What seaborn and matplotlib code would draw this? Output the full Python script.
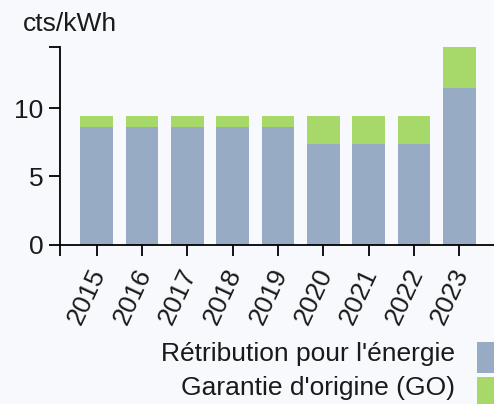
import matplotlib
matplotlib.use('Agg')
import matplotlib.pyplot as plt
import matplotlib.transforms as mtransforms
import seaborn as sns
import pandas as pd
from matplotlib.patches import Rectangle

years = ['2015', '2016', '2017', '2018', '2019', '2020', '2021', '2022', '2023']
energy = [8.6, 8.6, 8.6, 8.6, 8.6, 7.4, 7.4, 7.4, 11.5]
go = [0.8, 0.8, 0.8, 0.8, 0.8, 2.0, 2.0, 2.0, 3.0]
series_labels = ["Rétribution pour l'énergie", "Garantie d'origine (GO)"]
unit_label = 'cts/kWh'
y_ticks = [0, 5, 10]

bg = '#f8f9fd'
blue = '#98abc5'
green = '#a6d96a'
txt = '#1a1a1a'

sns.set_theme(style='ticks')
plt.rcParams['font.family'] = ['Liberation Sans', 'DejaVu Sans']

df = pd.DataFrame({'year': years, 'energy': energy,
                   'total': [e + g for e, g in zip(energy, go)]})

W, H = 494, 404
fig = plt.figure(figsize=(W / 100, H / 100), dpi=100, facecolor=bg)
ax = fig.add_axes([0.122, 0.394, 0.881, 0.4906])
ax.set_facecolor(bg)

sns.barplot(data=df, x='year', y='total', color=green, width=0.72,
            saturation=1, ax=ax, errorbar=None, linewidth=0)
sns.barplot(data=df, x='year', y='energy', color=blue, width=0.72,
            saturation=1, ax=ax, errorbar=None, linewidth=0)

ax.set_xlim(-0.8, 8.8)
ax.set_ylim(0, 14.5)
ax.set_yticks(y_ticks)
ax.set_yticks([14.5], minor=True)
ax.set_xticks([-0.8, 8.8], minor=True)
ax.set_xlabel('')
ax.set_ylabel('')

for s in ['top', 'right']:
    ax.spines[s].set_visible(False)
for s in ['left', 'bottom']:
    ax.spines[s].set_color('black')
    ax.spines[s].set_linewidth(1.3)

ax.tick_params(axis='both', which='both', length=8, width=1.3, color='black',
               direction='out', left=True, bottom=True, labelsize=19,
               labelcolor=txt)
ax.tick_params(axis='y', which='major', pad=4)
ax.tick_params(axis='x', which='major', pad=10)
offset = mtransforms.ScaledTranslation(3 / 100, 0, fig.dpi_scale_trans)
for lab in ax.get_xticklabels():
    lab.set_rotation(65)
    lab.set_ha('right')
    lab.set_va('center')
    lab.set_rotation_mode('anchor')
    lab.set_transform(lab.get_transform() + offset)

fig.text(23 / W, 1 - 31 / H, unit_label, fontsize=19, color=txt,
         va='baseline', ha='left')

# legend: right-aligned labels with swatches to their right
legend_colors = [blue, green]
text_baselines = [361, 395]
swatch_tops = [341.7, 377.3]
for lab, col, base, top in zip(series_labels, legend_colors, text_baselines, swatch_tops):
    fig.text(455 / W, 1 - base / H, lab, fontsize=19, color=txt,
             ha='right', va='baseline')
    fig.patches.append(Rectangle((476.7 / W, 1 - (top + 31.6) / H), 33 / W, 31.6 / H,
                                 transform=fig.transFigure, facecolor=col,
                                 edgecolor='none'))

fig.savefig('out.png', dpi=100, facecolor=bg)
